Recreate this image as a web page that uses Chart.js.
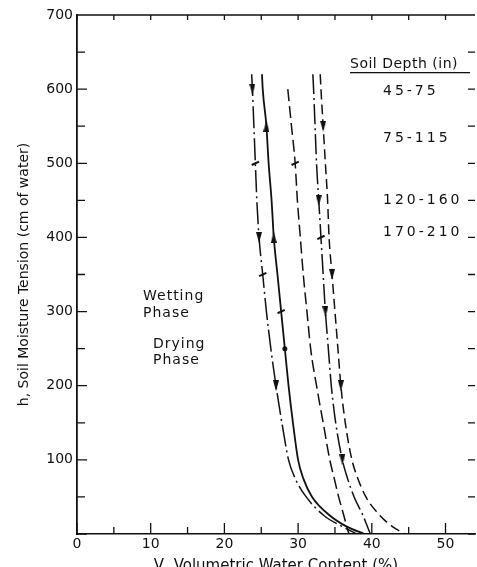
<!DOCTYPE html>
<html lang="en">
<head>
<meta charset="UTF-8">
<title>Soil Moisture Tension vs Volumetric Water Content</title>
<script src="https://cdn.jsdelivr.net/npm/chart.js@4.4.1/dist/chart.umd.min.js"></script>
<style>
  html, body { margin: 0; padding: 0; background: #fff; overflow: hidden; }
  #wrap { width: 477px; height: 567px; }
</style>
</head>
<body>
<div id="wrap"><canvas id="chart" width="477" height="567"></canvas></div>
<script>
// tension levels (cm of water) at which the curves were read
const tension = [620, 600, 550, 500, 450, 400, 350, 300, 250, 200, 150, 100, 75, 50, 25, 10, 0];

// volumetric water content (%) at each tension level
const drying45 = [23.7, 23.8, 24.0, 24.2, 24.4, 24.7, 25.2, 25.7, 26.3, 27.0, 27.8, 28.7, 29.6, 31.1, 33.5, 36.0, 38.0];
const wetting45 = [25.1, 25.2, 25.7, 26.0, 26.4, 26.7, 27.2, 27.7, 28.2, 28.7, 29.3, 30.0, 30.7, 31.9, 34.3, 36.6, 39.0];
const depth75 = [null, 28.6, 29.1, 29.6, 29.9, 30.3, 30.7, 31.2, 31.7, 32.5, 33.4, 34.3, 34.9, 35.5, 36.2, 36.6, 36.9];
const depth120 = [32.0, 32.1, 32.3, 32.5, 32.8, 33.1, 33.4, 33.7, 34.1, 34.5, 35.1, 36.0, 36.7, 37.6, 38.8, 39.4, 39.8];
const depth170 = [33.0, 33.1, 33.4, 33.7, 34.0, 34.2, 34.6, 35.0, 35.4, 35.8, 36.4, 37.3, 38.1, 39.2, 41.1, 42.8, 44.5];

// where the direction arrows, dots and small flags sit (tension values)
const drying45Arrows = [600, 400, 200];
const drying45Flags = [500, 350];
const wetting45Arrows = [550, 400];
const wetting45Dots = [250];
const wetting45Flags = [300];
const depth75Flags = [500];
const depth120Arrows = [450, 300, 100];
const depth120Flags = [400];
const depth170Arrows = [550, 350, 200];

const depthLabels = ['45-75', '75-115', '120-160', '170-210'];

// little arrow head used as a point style
function arrowHead() {
    const c = document.createElement('canvas');
    c.width = 6; c.height = 11;
    const g = c.getContext('2d');
    g.fillStyle = '#111';
    g.beginPath();
    g.moveTo(0, 0); g.lineTo(6, 0); g.lineTo(3, 11);
    g.closePath(); g.fill();
    return c;
}
const arrow = arrowHead();

function toPoints(values) {
    return tension.map((h, i) => values[i] == null ? null : { x: values[i], y: h }).filter(p => p);
}

function curve(label, values, dash, width, marks) {
    marks = marks || {};
    const kind = (ctx) => {
        const h = ctx.raw && ctx.raw.y;
        if ((marks.down || []).includes(h)) return 'down';
        if ((marks.up || []).includes(h)) return 'up';
        if ((marks.dot || []).includes(h)) return 'dot';
        if ((marks.flag || []).includes(h)) return 'flag';
        return null;
    };
    return {
        label: label,
        data: toPoints(values),
        showLine: true,
        borderColor: '#111',
        backgroundColor: '#111',
        borderWidth: width,
        borderDash: dash,
        cubicInterpolationMode: 'monotone',
        pointRadius: (ctx) => {
            const k = kind(ctx);
            return !k ? 0 : k === 'dot' ? 2.5 : 4;
        },
        pointStyle: (ctx) => {
            const k = kind(ctx);
            return k === 'dot' ? 'circle' : k === 'flag' ? 'line' : arrow;
        },
        pointRotation: (ctx) => {
            const k = kind(ctx);
            return k === 'up' ? 180 : k === 'flag' ? -25 : 0;
        },
        pointBorderColor: '#111',
        pointBorderWidth: (ctx) => kind(ctx) === 'flag' ? 2 : 0,
        pointHoverRadius: 0
    };
}

// inward tick marks on all four sides, plus the top frame line
const frameTicks = {
    id: 'frameTicks',
    afterDraw(chart) {
        const { ctx, chartArea: a, scales: { x, y } } = chart;
        ctx.save();
        ctx.strokeStyle = '#111';
        ctx.lineWidth = 1.3;
        ctx.beginPath();
        x.ticks.forEach(t => {
            if (t.value % 5) return;
            const px = x.getPixelForValue(t.value);
            ctx.moveTo(px, a.bottom);
            ctx.lineTo(px, a.bottom - (t.value % 10 ? 7 : 11));
            ctx.moveTo(px, a.top);
            ctx.lineTo(px, a.top + 5);
        });
        y.ticks.forEach(t => {
            const py = y.getPixelForValue(t.value);
            ctx.moveTo(a.left, py);
            ctx.lineTo(a.left + (t.value % 100 ? 8 : 10), py);
            ctx.moveTo(a.right, py);
            ctx.lineTo(a.right - 7, py);
        });
        ctx.moveTo(a.left, a.top);
        ctx.lineTo(a.right, a.top);
        ctx.stroke();
        ctx.restore();
    }
};

// legend block and phase notes written on the plot
const notes = {
    id: 'notes',
    afterDraw(chart) {
        const ctx = chart.ctx;
        ctx.save();
        ctx.fillStyle = '#111';
        ctx.textBaseline = 'alphabetic';
        ctx.textAlign = 'left';
        ctx.font = '14px "DejaVu Sans"';
        ctx.letterSpacing = '0.5px';
        ctx.fillText('Soil Depth (in)', 350, 68);
        ctx.fillRect(350, 72, 120, 1.3);
        ctx.letterSpacing = '3px';
        const rows = [95, 142, 204, 236];
        depthLabels.forEach((d, i) => ctx.fillText(d, 383, rows[i]));
        ctx.letterSpacing = '1px';
        ctx.fillText('Wetting', 143, 300);
        ctx.fillText('Phase', 143, 317);
        ctx.fillText('Drying', 153, 348);
        ctx.fillText('Phase', 153, 364);
        ctx.restore();
    }
};

new Chart(document.getElementById('chart'), {
    type: 'scatter',
    data: {
        datasets: [
            curve('45-75 drying', drying45, [22, 4, 2, 4], 1.5, { down: drying45Arrows, flag: drying45Flags }),
            curve('45-75 wetting', wetting45, [], 1.8, { up: wetting45Arrows, dot: wetting45Dots, flag: wetting45Flags }),
            curve('75-115', depth75, [12, 5], 1.5, { flag: depth75Flags }),
            curve('120-160', depth120, [20, 4, 2, 4], 1.5, { down: depth120Arrows, flag: depth120Flags }),
            curve('170-210', depth170, [10, 5], 1.5, { down: depth170Arrows })
        ]
    },
    options: {
        responsive: false,
        animation: false,
        devicePixelRatio: 1,
        layout: { padding: { top: 15, right: 0, left: 0, bottom: 0 } },
        plugins: { legend: { display: false }, tooltip: { enabled: false } },
        scales: {
            x: {
                type: 'linear',
                min: 0, max: 54,
                grid: { display: false, drawTicks: false },
                border: { color: '#111', width: 1.5 },
                afterFit: (s) => { s.height = 33; },
                ticks: {
                    stepSize: 5, autoSkip: false, maxRotation: 0, padding: 2,
                    color: '#111', font: { family: 'DejaVu Sans', size: 14 },
                    callback: (v) => v % 10 === 0 ? v : ''
                },
                title: {
                    display: true, text: 'V, Volumetric Water Content (%)', color: '#111',
                    font: { family: 'DejaVu Sans', size: 15 }, padding: { top: 0, bottom: -8 }
                }
            },
            y: {
                type: 'linear',
                min: 0, max: 700,
                grid: { display: false, drawTicks: false },
                border: { color: '#111', width: 1.8 },
                afterFit: (s) => { s.width = 77; },
                ticks: {
                    stepSize: 50, autoSkip: false, padding: 4,
                    color: '#111', font: { family: 'DejaVu Sans', size: 14 },
                    callback: (v) => v % 100 === 0 && v > 0 ? v : ''
                },
                title: {
                    display: true, text: 'h, Soil Moisture Tension (cm of water)', color: '#111',
                    font: { family: 'DejaVu Sans', size: 14 }, padding: { top: 16, bottom: 0 }
                }
            }
        }
    },
    plugins: [frameTicks, notes]
});
</script>
</body>
</html>
